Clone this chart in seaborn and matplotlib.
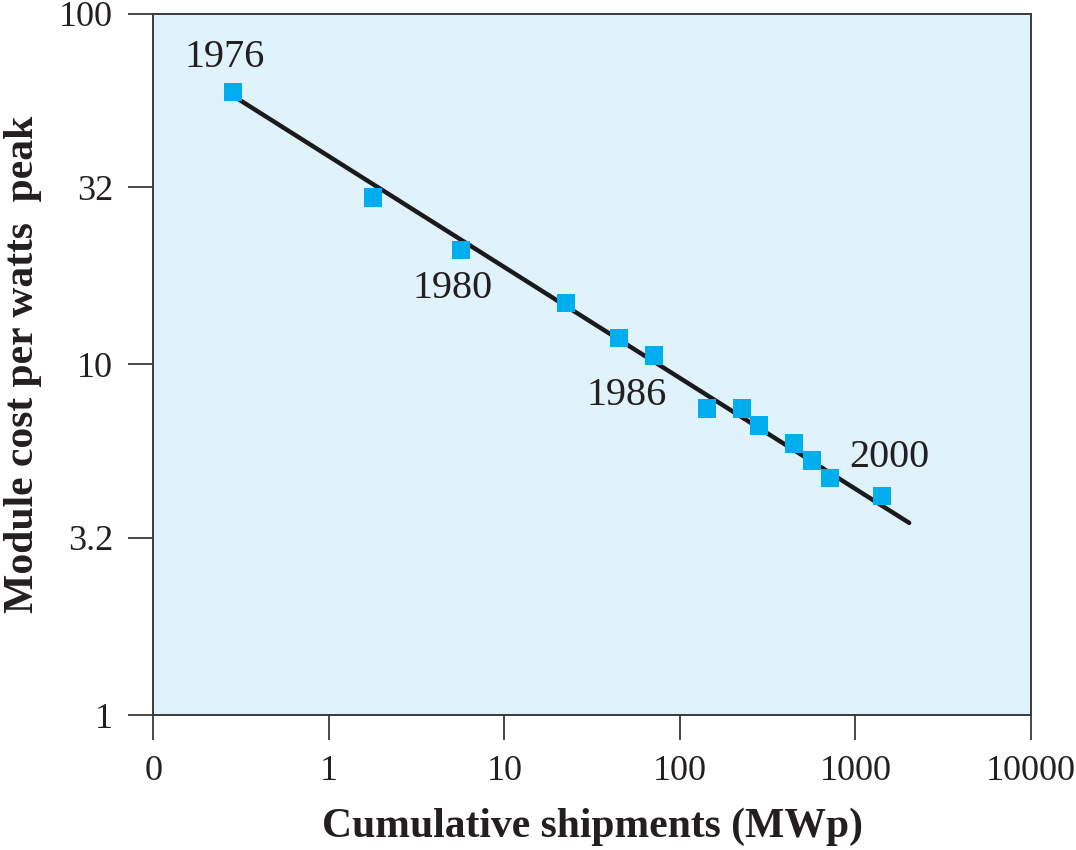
import matplotlib
matplotlib.use("Agg")
import matplotlib.pyplot as plt
import seaborn as sns
import pandas as pd

# ---- data ----
shipments = [0.284, 1.79, 5.67, 22.5, 45.0, 71.3, 143, 226, 283, 448, 566, 717, 1419]
cost = [59.7, 29.9, 21.2, 14.95, 11.9, 10.6, 7.48, 7.48, 6.69, 5.94, 5.32, 4.74, 4.21]
fit_x = [0.284, 2023]
fit_y = [58.3, 3.53]
year_labels = ["1976", "1980", "1986", "2000"]
year_index = [0, 2, 5, 12]
x_ticks = [0.1, 1, 10, 100, 1000, 10000]
x_tick_labels = ["0", "1", "10", "100", "1000", "10000"]
y_ticks = [1, 3.2, 10, 32, 100]
y_tick_labels = ["1", "3.2", "10", "32", "100"]

sns.set_theme(style="ticks")
plt.rcParams["font.family"] = ["Liberation Serif", "DejaVu Serif"]

TXT = "#231f20"
EDGE = "#3a3a3a"

fig = plt.figure(figsize=(10.76, 8.5), dpi=100)
ax = fig.add_axes([153.3 / 1076, 1 - 715 / 850, (1031 - 153.3) / 1076, (715 - 13.5) / 850])
ax.set_facecolor("#e0f2fc")

df_pts = pd.DataFrame({"x": shipments, "y": cost})
df_fit = pd.DataFrame({"x": fit_x, "y": fit_y})

sns.lineplot(data=df_fit, x="x", y="y", ax=ax, color="#1a1a1a", linewidth=3.2, zorder=2)
sns.scatterplot(data=df_pts, x="x", y="y", ax=ax, marker="s", s=175, color="#00aeef",
                edgecolor="none", linewidth=0, zorder=3)

ax.set_xscale("log")
ax.set_yscale("log")
ax.set_xlim(0.1, 10000)
ax.set_ylim(1, 100)
ax.set_xticks(x_ticks)
ax.set_xticklabels(x_tick_labels)
ax.set_yticks(y_ticks)
ax.set_yticklabels(y_tick_labels)
ax.minorticks_off()

ax.tick_params(axis="both", which="major", direction="out", length=18, width=1.3,
               color=EDGE, labelsize=26, labelcolor=TXT)
ax.tick_params(axis="x", pad=11)
ax.tick_params(axis="y", pad=11)
for sp in ax.spines.values():
    sp.set_color(EDGE)
    sp.set_linewidth(1.4)

ax.set_xlabel("Cumulative shipments (MWp)", fontsize=30, fontweight="bold", color=TXT, labelpad=14)
ax.set_ylabel("Module cost per watts  peak", fontsize=30, fontweight="bold", color=TXT, labelpad=12)

offsets = [(-6, 25), (-6, -28), (-20, -29), (5, 28)]
for lbl, idx, off in zip(year_labels, year_index, offsets):
    ax.annotate(lbl, xy=(shipments[idx], cost[idx]), xytext=off, textcoords="offset points",
                ha="center", va="center", fontsize=29, color=TXT)

fig.savefig("out.png", dpi=100)
